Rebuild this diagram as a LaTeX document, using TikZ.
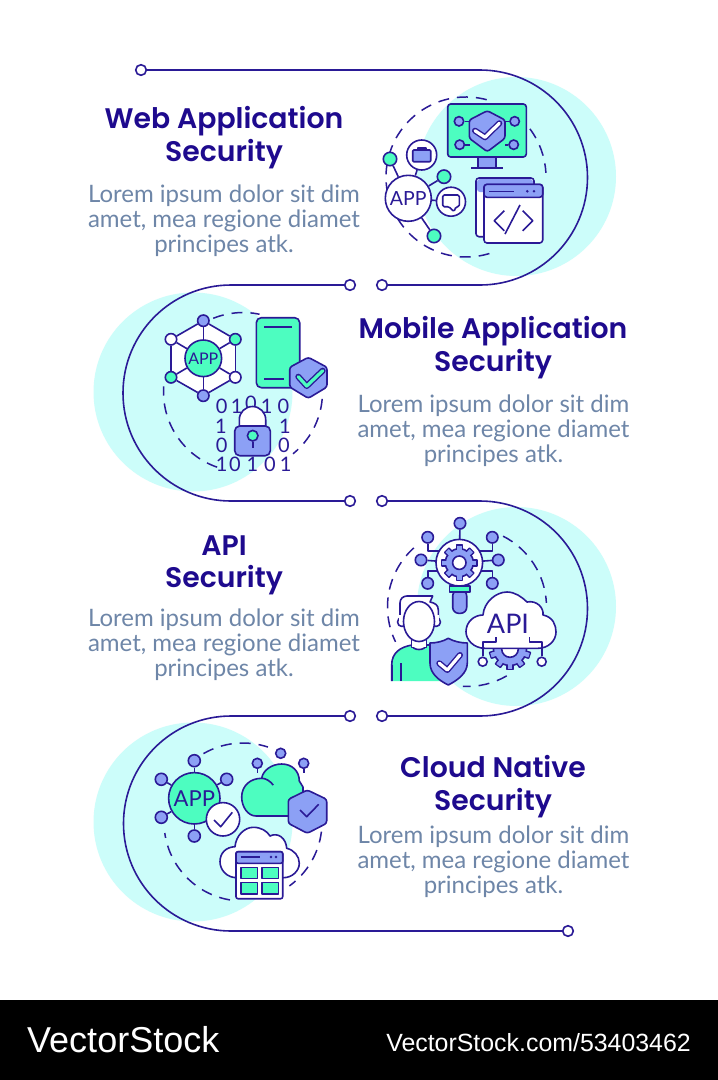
\documentclass[tikz,border=0pt]{standalone}
\usepackage{fontspec}
\setmainfont{Lato}
\newfontfamily\titlefont{Poppins SemiBold}
\newfontfamily\markfont{Liberation Sans}
\definecolor{ink}{HTML}{2A1A96}
\definecolor{titleink}{HTML}{1E0A8E}
\definecolor{greyblue}{HTML}{6E86A8}
\definecolor{cyanwash}{HTML}{CCFDFA}
\definecolor{mint}{HTML}{4DFDC0}
\definecolor{peri}{HTML}{8CA0F5}
\tikzset{
  track/.style={draw=ink,line width=1.6pt},
  dotnode/.style={circle,draw=ink,line width=1.6pt,fill=white,minimum size=10.6pt,inner sep=0pt},
  heading/.style={text=titleink,align=center,inner sep=0pt,font=\titlefont\fontsize{28.3}{32.5}\selectfont},
  bodytext/.style={text=greyblue,align=center,inner sep=0pt,font=\fontsize{24}{25}\selectfont},
  dashring/.style={draw=ink,line width=1.5pt,dash pattern=on 11pt off 8pt},
  icon/.style={draw=ink,line width=1.6pt,line join=round},
  ball/.style={circle,draw=ink,line width=1.6pt,fill=peri,minimum size=11.4pt,inner sep=0pt},
  appnode/.style={circle,draw=ink,line width=1.6pt,inner sep=0pt,text=ink},
  bit/.style={text=ink,inner sep=0pt,font=\fontsize{20}{20}\selectfont},
  shield/.style={icon,fill=peri,rounded corners=2.5pt},
  tickout/.style={draw=ink,line width=6pt,line cap=round,line join=round},
  tickin/.style={line width=3.2pt,line cap=round,line join=round},
  wordmark/.style={text=white,inner sep=0pt,font=\markfont}
}
\begin{document}
\begin{tikzpicture}[x=1pt,y=-1pt]
\useasboundingbox (0,0) rectangle (718,1080);
\fill[white] (0,0) rectangle (718,1080);
\fill[black] (0,1000) rectangle (718,1080);

\fill[cyanwash] (516.5,176.5) circle (99.5);
\fill[cyanwash] (193,392) circle (99.5);
\fill[cyanwash] (516.5,606.5) circle (99.5);
\fill[cyanwash] (193,822) circle (99.5);

\node[dotnode] (dot1a) at (141,70) {};
\node[dotnode] (dot1b) at (382,285) {};
\node[dotnode] (dot2a) at (350,285) {};
\node[dotnode] (dot2b) at (350,501) {};
\node[dotnode] (dot3a) at (382,501) {};
\node[dotnode] (dot3b) at (382,716) {};
\node[dotnode] (dot4a) at (350,716) {};
\node[dotnode] (dot4b) at (568,931) {};
\draw[track] (dot1a) -- (480,70) arc[start angle=-90,end angle=90,radius=107.5] -- (dot1b);
\draw[track] (dot2a) -- (231,285) arc[start angle=-90,end angle=-270,radius=108] -- (dot2b);
\draw[track] (dot3a) -- (480,501) arc[start angle=-90,end angle=90,radius=107.5] -- (dot3b);
\draw[track] (dot4a) -- (231,716) arc[start angle=-90,end angle=-270,radius=107.5] -- (dot4b);

\node[heading] (title1) at (224,137.5) {Web Application\\Security};
\node[bodytext] (body1) at (224,221) {Lorem ipsum dolor sit dim\\amet, mea regione diamet\\principes atk.};
\node[heading] (title2) at (493,347.5) {Mobile Application\\Security};
\node[bodytext] (body2) at (493.5,431) {Lorem ipsum dolor sit dim\\amet, mea regione diamet\\principes atk.};
\node[heading] (title3) at (224,565.5) {API\\Security};
\node[bodytext] (body3) at (224,645) {Lorem ipsum dolor sit dim\\amet, mea regione diamet\\principes atk.};
\node[heading] (title4) at (493,786.5) {Cloud Native\\Security};
\node[bodytext] (body4) at (493.5,862) {Lorem ipsum dolor sit dim\\amet, mea regione diamet\\principes atk.};

\draw[dashring] (466,177) ++(-75:80) arc[start angle=-75,end angle=-292,radius=80];
\draw[dashring] (466,177) ++(-37:80) arc[start angle=-37,end angle=-3,radius=80];
\draw[icon,fill=mint,rounded corners=3pt] (447.7,104) rectangle (526.3,157);
\draw[icon,fill=peri] (477.7,157) rectangle (496,167.7);
\draw[icon] (471,167.7) -- (503,167.7);
\node[ball,minimum size=9.4pt] (mon1) at (459,121.3) {};
\node[ball,minimum size=9.4pt] (mon2) at (514.7,121.3) {};
\node[ball,minimum size=9.4pt] (mon3) at (459.7,144.7) {};
\node[ball,minimum size=9.4pt] (mon4) at (513.7,144.7) {};
\draw[shield] (487.3,110.7) -- (505,120) -- (505,138.3) -- (487.3,151.7) -- (469.3,138.3) -- (469.3,120) -- cycle;
\coordinate (monshield1) at (469.3,121.3);
\coordinate (monshield2) at (505,121.3);
\coordinate (monshield3) at (470,144.7);
\coordinate (monshield4) at (505,144.7);
\draw[icon] (mon1) -- (monshield1);
\draw[icon] (mon2) -- (monshield2);
\draw[icon] (mon3) -- (monshield3);
\draw[icon] (mon4) -- (monshield4);
\draw[tickout] (475,130.7) -- (485,137.3) -- (499.3,123.3);
\draw[tickin,white] (475,130.7) -- (485,137.3) -- (499.3,123.3);
\draw[icon,fill=white,rounded corners=3pt] (476,178) rectangle (534,236.7);
\fill[peri,rounded corners=3pt] (477,179) rectangle (533,192);
\draw[icon,fill=white,rounded corners=3pt] (484,184.3) rectangle (542.7,243);
\draw[icon,fill=peri,rounded corners=3pt] (484,197.3) -- (484,184.3) -- (542.7,184.3) -- (542.7,197.3) -- cycle;
\draw[icon] (489,191.3) -- (514,191.3);
\fill[ink] (527.3,191.3) circle (1.4);
\fill[ink] (534,191.3) circle (1.4);
\draw[icon] (504.3,210.7) -- (494.3,220.7) -- (504.3,230.7);
\draw[icon] (522.7,210.7) -- (532.7,220.7) -- (522.7,230.7);
\draw[icon] (520,205) -- (505,234);
\node[appnode,fill=white,minimum size=46pt,font=\fontsize{19.5}{20}\selectfont] (app1) at (408.3,198.3) {APP};
\node[ball,fill=mint,minimum size=13.4pt] (web1) at (390,159) {};
\node[ball,fill=white,minimum size=30pt] (web2) at (421.7,155) {};
\node[ball,fill=mint,minimum size=13.4pt] (web3) at (444,176.7) {};
\node[ball,fill=white,minimum size=29pt] (web4) at (451,201.7) {};
\node[ball,fill=mint,minimum size=13.4pt] (web5) at (434,236) {};
\draw[icon] (app1) -- (web1);
\draw[icon] (app1) -- (web2);
\draw[icon] (app1) -- (web3);
\draw[icon] (app1) -- (web4);
\draw[icon] (app1) -- (web5);
\draw[icon,fill=peri,rounded corners=1pt] (412.7,150) rectangle (430.7,161.7);
\draw[icon] (417.7,150) -- (417.7,147.7) -- (425.7,147.7) -- (425.7,150);
\draw[icon,rounded corners=1.5pt] (442.7,195) -- (459.3,195) -- (459.3,206.7) -- (456,206.7) -- (454,211.7) -- (449,206.7) -- (442.7,206.7) -- cycle;

\draw[dashring] (243,392) ++(-112:79.5) arc[start angle=-112,end angle=-78,radius=79.5];
\draw[dashring] (243,392) ++(5:79.5) arc[start angle=5,end angle=51,radius=79.5];
\draw[dashring] (243,392) ++(109:79.5) arc[start angle=109,end angle=184,radius=79.5];
\fill[white] (203.3,320.7) -- (235.3,339.3) -- (235.3,377.3) -- (203.3,395.7) -- (171,377.3) -- (171,339.3) -- cycle;
\node[appnode,fill=mint,minimum size=36.6pt,font=\fontsize{16}{16}\selectfont] (app2) at (203.3,358.3) {APP};
\node[ball] (hex1) at (203.3,320.7) {};
\node[ball,fill=mint] (hex2) at (235.3,339.3) {};
\node[ball,fill=white] (hex3) at (235.3,377.3) {};
\node[ball] (hex4) at (203.3,395.7) {};
\node[ball,fill=mint] (hex5) at (171,377.3) {};
\node[ball,fill=white] (hex6) at (171,339.3) {};
\draw[icon] (hex1) -- (hex2);
\draw[icon] (hex2) -- (hex3);
\draw[icon] (hex3) -- (hex4);
\draw[icon] (hex4) -- (hex5);
\draw[icon] (hex5) -- (hex6);
\draw[icon] (hex6) -- (hex1);
\draw[icon] (app2) -- (hex1);
\draw[icon] (app2) -- (hex2);
\draw[icon] (app2) -- (hex3);
\draw[icon] (app2) -- (hex4);
\draw[icon] (app2) -- (hex5);
\draw[icon] (app2) -- (hex6);
\draw[icon,fill=mint,rounded corners=5pt] (256.3,317.7) rectangle (299.7,387.7);
\draw[icon] (264,327) -- (292,327);
\draw[icon] (264,379) -- (284,379);
\draw[shield] (308.3,357.3) -- (327,367.3) -- (327,387) -- (308.3,398.3) -- (289.7,387) -- (289.7,367.3) -- cycle;
\draw[tickout] (298.3,376.7) -- (306.7,386) -- (322.7,370.7);
\draw[tickin,mint] (298.3,376.7) -- (306.7,386) -- (322.7,370.7);
\node[bit] (bit1) at (221.7,406.7) {0};
\node[bit] (bit2) at (236.7,406.7) {1};
\node[bit] (bit3) at (251,403) {0};
\node[bit] (bit4) at (266.7,406.7) {1};
\node[bit] (bit5) at (283.3,406.7) {0};
\node[bit] (bit6) at (221,426.7) {1};
\node[bit] (bit7) at (285,426.7) {1};
\node[bit] (bit8) at (221.7,445.7) {0};
\node[bit] (bit9) at (284,445.7) {0};
\node[bit] (bit10) at (221.7,464.3) {1};
\node[bit] (bit11) at (235,464.3) {0};
\node[bit] (bit12) at (252.3,464.3) {1};
\node[bit] (bit13) at (270,464.3) {0};
\node[bit] (bit14) at (285.7,464.3) {1};
\draw[icon,fill=white] (239.3,428) -- (239.3,419.7) arc[start angle=180,end angle=360,radius=13.2] -- (265.7,428) -- cycle;
\draw[icon,fill=peri,rounded corners=5pt] (252.5,426) -- (270.3,426) -- (270.3,455.7) -- (234.7,455.7) -- (234.7,426) -- cycle;
\node[ball,fill=mint,minimum size=10.6pt] (key) at (252.7,435.7) {};
\coordinate (keyend) at (252.7,447.7);
\draw[icon] (key) -- (keyend);

\draw[dashring] (467,607) ++(-63:79.5) arc[start angle=-63,end angle=-3,radius=79.5];
\draw[dashring] (467,607) ++(-132:79.5) arc[start angle=-132,end angle=-206,radius=79.5];
\draw[dashring] (467,607) ++(60:79.5) arc[start angle=60,end angle=93,radius=79.5];
\node[ball] (net1) at (460,523.3) {};
\node[ball] (net2) at (427.7,537.3) {};
\node[ball] (net3) at (492.3,537.3) {};
\node[ball] (net4) at (421,560) {};
\node[ball] (net5) at (498.3,560) {};
\node[ball] (net6) at (427.7,583.3) {};
\node[ball] (net7) at (492.3,583.3) {};
\node[circle,minimum size=46.6pt,inner sep=0pt] (lens) at (459.3,562.7) {};
\draw[icon] (net1) -- (lens);
\draw[icon] (net2) |- (441,550.7);
\draw[icon] (net3) |- (477.7,550.7);
\draw[icon] (net4) -- (lens);
\draw[icon] (net5) -- (lens);
\draw[icon] (net6) |- (441,571);
\draw[icon] (net7) |- (477.7,571);
\draw[icon,fill=peri,rounded corners=6pt] (452.7,590) -- (452.7,613.3) -- (466.7,613.3) -- (466.7,590) -- cycle;
\draw[icon,fill=mint] (449.3,585.7) rectangle (470,591.7);
\draw[icon,fill=white] (lens) circle (23.3);
\begin{scope}[shift={(459.3,562.7)}]
\foreach \a in {0,45,...,315}
  \draw[icon,fill=peri,rotate=\a] (-3,-17.5) rectangle (3,0);
\fill[peri] (0,0) circle (14);
\draw[icon] (0,0) circle (14);
\foreach \a in {0,45,...,315}
  \fill[peri,rotate=\a] (-2.2,-17) rectangle (2.2,-11);
\draw[icon,fill=white] (0,0) circle (6.7);
\end{scope}
\draw[icon,fill=mint] (391.7,681) -- (391.7,665) .. controls (391.7,653) and (400,647) .. (412,645) -- (430,645) -- (440,650) -- (450,681);
\fill[mint] (392.5,681) rectangle (445,660);
\draw[icon] (401,663.3) -- (401,681);
\draw[icon] (391.7,681) -- (391.7,665);
\draw[icon,fill=white] (411.5,632) rectangle (426.5,647);
\draw[icon,fill=white] (411.5,645) .. controls (413,651) and (425,651) .. (426.5,645);
\fill[white] (412.3,636) rectangle (425.7,647);
\draw[icon,fill=white] (400,622) -- (400,603) .. controls (400,599) and (403,596) .. (407,596) -- (432.7,596) -- (430,602) .. controls (435,603) and (438.3,605) .. (438.3,610) -- (438.3,622) -- cycle;
\draw[icon,fill=white] (402,622) circle (4.5);
\draw[icon,fill=white] (436,622) circle (4.5);
\draw[icon,draw=none,fill=white] (398.8,615) rectangle (439.2,621);
\draw[icon,fill=white] (419,621.5) ellipse (15.5 and 20);
\draw[icon,fill=peri] (448.3,638.3) .. controls (454,641.5) and (461,643) .. (467.3,643) -- (467.3,663) .. controls (467.3,673) and (458,680) .. (448.3,685) .. controls (438,680) and (430,673) .. (430,663) -- (430,643) .. controls (436,643) and (443,641.5) .. (448.3,638.3) -- cycle;
\draw[tickout] (439.3,663.3) -- (447.3,670) -- (460,655);
\draw[tickin,white] (439.3,663.3) -- (447.3,670) -- (460,655);
\begin{scope}[shift={(510,649)}]
\foreach \a in {0,36,...,324}
  \draw[icon,fill=peri,rotate=\a] (-3,-20.5) rectangle (3,0);
\fill[peri] (0,0) circle (16.5);
\draw[icon] (0,0) circle (16.5);
\foreach \a in {0,36,...,324}
  \fill[peri,rotate=\a] (-2.2,-20) rectangle (2.2,-14);
\draw[icon,fill=white] (0,0) circle (8.3);
\end{scope}
\draw[icon,fill=white] (485,648.3) .. controls (474,648.3) and (466,640) .. (466,631.7) .. controls (466,622) and (474,615) .. (483,615) .. controls (484,602) and (496,592) .. (507,592) .. controls (515,592) and (522,597) .. (527,602) .. controls (537,600) and (544,608) .. (543,615) .. controls (553,617) and (556,625) .. (556,632) .. controls (556,641) and (548,648.3) .. (538,648.3) -- cycle;
\node[text=ink,inner sep=0pt,font=\fontsize{27}{27}\selectfont] (apilabel) at (508,624) {API};
\node[ball,fill=white,minimum size=9pt] (port1) at (482.7,661.7) {};
\node[ball,fill=white,minimum size=9pt] (port2) at (541.7,661.7) {};
\coordinate (pin1) at (496,636.7);
\coordinate (pin2) at (529.3,636.7);
\draw[icon] (port1) |- (496,641.7) -- (pin1);
\draw[icon] (port2) |- (529.3,641.7) -- (pin2);

\draw[dashring] (243,822) ++(-120:79) arc[start angle=-120,end angle=-71.6,radius=79];
\draw[dashring] (243,822) ++(99.5:79) arc[start angle=99.5,end angle=172,radius=79];
\draw[dashring] (243,822) ++(7:79) arc[start angle=7,end angle=54,radius=79];
\node[appnode,fill=mint,minimum size=51.4pt,font=\fontsize{22}{22}\selectfont] (app4) at (194.3,798.3) {APP};
\node[ball,minimum size=12pt] (sat1) at (194.3,760.7) {};
\node[ball,minimum size=12pt] (sat2) at (226.7,779.3) {};
\node[ball,minimum size=12pt] (sat3) at (161.3,779.3) {};
\node[ball,minimum size=12pt] (sat4) at (161.3,817.3) {};
\node[ball,minimum size=12pt] (sat5) at (194.3,836) {};
\draw[icon] (app4) -- (sat1);
\draw[icon] (app4) -- (sat2);
\draw[icon] (app4) -- (sat3);
\draw[icon] (app4) -- (sat4);
\draw[icon] (app4) -- (sat5);
\node[ball,fill=white,minimum size=33.4pt] (okdisc) at (223,819.3) {};
\draw[icon] (214,820) -- (220.7,826.7) -- (232.3,812.3);
\node[ball,minimum size=10pt] (drop1) at (257.3,763.3) {};
\node[ball,minimum size=10pt] (drop2) at (280.7,753.3) {};
\node[ball,minimum size=10pt] (drop3) at (303.7,763.3) {};
\coordinate (stem1) at (257.3,773.3);
\coordinate (stem3) at (303.7,773.3);
\draw[icon] (drop1) -- (stem1);
\draw[icon] (drop3) -- (stem3);
\draw[icon,fill=mint] (256,816) .. controls (248,816) and (241.7,807) .. (241.7,797) .. controls (241.7,786) and (250,778.3) .. (261.7,778.3) .. controls (263,770) and (272,764) .. (281.7,764) .. controls (292,764) and (299.3,771) .. (299.3,781) -- (303,787) -- (303,816) -- cycle;
\draw[icon] (261.7,778.3) .. controls (266,778.3) and (270,781) .. (273.3,785);
\draw[shield] (307.3,790) -- (326.7,799.3) -- (326.7,823.3) -- (307.3,833.3) -- (288.3,823.3) -- (288.3,799.3) -- cycle;
\draw[icon] (300,810) -- (306.7,816.7) -- (318.7,804.3);
\draw[icon,fill=white] (236.7,877.7) .. controls (227,877.7) and (220,870) .. (220,861.7) .. controls (220,853) and (226,847) .. (235,846.7) .. controls (236,835) and (245,827.3) .. (253.3,827.3) .. controls (261,827.3) and (267,831) .. (270,836) .. controls (278,832) and (286,838) .. (286.7,848.3) .. controls (294,850) and (299.3,856) .. (299.3,863.3) .. controls (299.3,871) and (292,877.7) .. (283.3,877.7) -- cycle;
\draw[icon,fill=white,rounded corners=2pt] (236,851.7) rectangle (282.7,898.7);
\draw[icon,fill=peri,rounded corners=2pt] (236,863.3) -- (236,851.7) -- (282.7,851.7) -- (282.7,863.3) -- cycle;
\draw[icon] (240.7,857) -- (260,857);
\fill[ink] (271,857) circle (1.4);
\fill[ink] (276,857) circle (1.4);
\draw[icon,fill=mint] (240.7,867.3) rectangle (257.3,878.3);
\draw[icon,fill=mint] (262,867.3) rectangle (278.3,878.3);
\draw[icon,fill=mint] (240.7,882.3) rectangle (257.3,893.7);
\draw[icon,fill=mint] (262,882.3) rectangle (278.3,893.7);

\node[wordmark,anchor=west,font=\markfont\fontsize{36}{36}\selectfont] (brand) at (27,1040) {VectorStock};
\node[wordmark,anchor=east,font=\markfont\fontsize{24.9}{24.9}\selectfont] (link) at (691,1043) {VectorStock.com/53403462};
\end{tikzpicture}
\end{document}
